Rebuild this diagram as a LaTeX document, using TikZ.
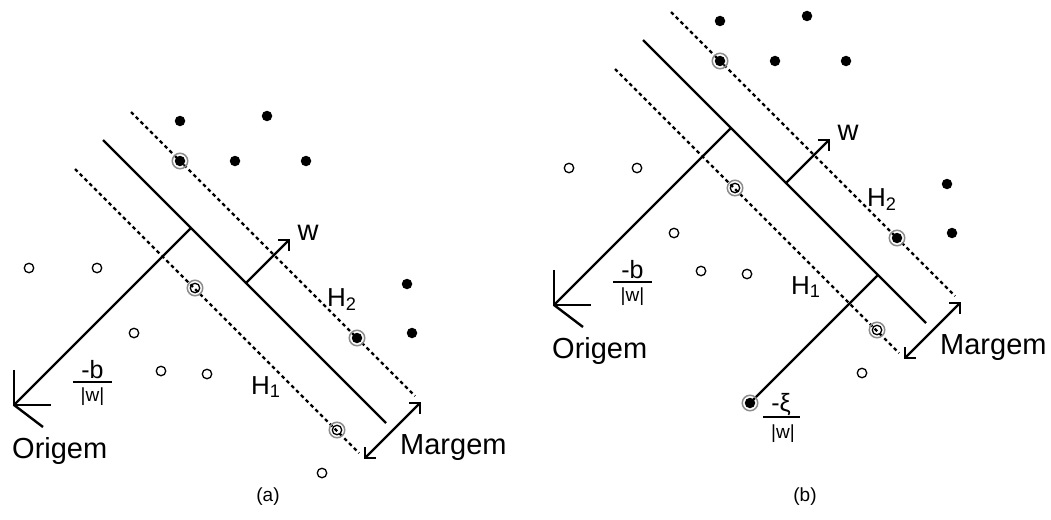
\documentclass[tikz,border=0pt]{standalone}
\usepackage{fontspec}
\setmainfont{Liberation Sans}
\usetikzlibrary{arrows.meta}
\begin{document}
\begin{tikzpicture}[x=1pt,y=-1pt,
  hyper/.style={line width=2.4pt},
  margline/.style={line width=2.4pt, dash pattern=on 3.6pt off 3.2pt},
  vec/.style={line width=2.4pt, -{Straight Barb[length=7.5pt,width=15pt,line width=2.4pt]}},
  dvec/.style={line width=2.4pt, {Straight Barb[length=7.5pt,width=15pt,line width=2.4pt]}-{Straight Barb[length=7.5pt,width=15pt,line width=2.4pt]}},
  fdot/.style={circle, fill=black, inner sep=0pt, minimum size=10.5pt},
  odot/.style={circle, draw=black, fill=white, line width=1.3pt, inner sep=0pt, minimum size=9.5pt},
  ringc/.style={circle, draw=black!45, line width=1.5pt, inner sep=0pt, minimum size=15.5pt},
  lab/.style={font=\fontsize{29}{34}\selectfont, inner sep=0pt},
  hlab/.style={font=\fontsize{26}{30}\selectfont, inner sep=0pt},
  numlab/.style={font=\fontsize{25}{28}\selectfont, inner sep=0pt},
  denlab/.style={font=\fontsize{19}{22}\selectfont, inner sep=0pt},
  caplab/.style={font=\fontsize{19}{22}\selectfont, inner sep=0pt},
  svm/.pic={
    % hyperplane and margins
    \coordinate (-s1) at (103,140); \coordinate (-s2) at (386,423);
    \coordinate (-u1) at (131,112); \coordinate (-u2) at (415,396);
    \coordinate (-l1) at (75,169);  \coordinate (-l2) at (359,453);
    \draw[hyper] (-s1) -- (-s2);
    \draw[margline] (-u1) -- (-u2);
    \draw[margline] (-l1) -- (-l2);
    % origin
    \coordinate (-o) at (14,405); \coordinate (-foot) at (191,228);
    \coordinate (-ov) at (14,370); \coordinate (-oh) at (51,405); \coordinate (-od) at (43,427);
    \draw[hyper] (-foot) -- (-o);
    \draw[hyper] (-ov) -- (-o) -- (-oh);
    \draw[hyper] (-o) -- (-od);
    % w vector
    \coordinate (-wa) at (246,283); \coordinate (-wb) at (290,239);
    \draw[vec] (-wa) -- (-wb);
    % margin arrow
    \coordinate (-ma) at (364,459); \coordinate (-mb) at (421,402);
    \draw[dvec] (-ma) -- (-mb);
    % filled points
    \node[fdot] (-f1) at (180,121) {};
    \node[fdot] (-f2) at (267,116) {};
    \node[fdot] (-f3) at (235,161) {};
    \node[fdot] (-f4) at (306,161) {};
    \node[fdot] (-f5) at (407,284) {};
    \node[fdot] (-f6) at (412,333) {};
    \node[ringc] (-r1) at (180,161) {}; \node[fdot] (-fs1) at (180,161) {};
    \node[ringc] (-r2) at (357,338) {}; \node[fdot] (-fs2) at (357,338) {};
    % open points
    \node[odot] (-c1) at (29,268) {};
    \node[odot] (-c2) at (97,268) {};
    \node[odot] (-c3) at (134,333) {};
    \node[odot] (-c4) at (161,371) {};
    \node[odot] (-c5) at (207,374) {};
    \node[odot] (-c6) at (322,473) {};
    \node[ringc] (-r3) at (195,288) {}; \node[odot, fill=none] (-cs1) at (195,288) {};
    \node[ringc] (-r4) at (337,430) {}; \node[odot, fill=none] (-cs2) at (337,430) {};
    % labels
    \node[lab, anchor=base] (-wl) at (308,240) {w};
    \node[hlab, anchor=base west] (-h2) at (327,306) {H\textsubscript{2}};
    \node[hlab, anchor=base west] (-h1) at (251,394) {H\textsubscript{1}};
    \node[lab, anchor=base west] (-orig) at (12,458) {Origem};
    \node[lab, anchor=base west] (-marg) at (400,454) {Margem};
    \node[numlab, anchor=base] (-bn) at (92.5,378) {-b};
    \coordinate (-bb1) at (73,382); \coordinate (-bb2) at (112,382);
    \draw[line width=2pt] (-bb1) -- (-bb2);
    \node[denlab, anchor=base] (-bd) at (92.5,401) {|w|};
  }]
\useasboundingbox (0,0) rectangle (1051,519);
\pic (pa) at (0,0) {svm};
\pic (pb) at (540,-100) {svm};
% slack variable in (b)
\coordinate (xifoot) at (878,275);
\draw[hyper] (xifoot) -- (750,403) coordinate (xiend);
\node[ringc] (xiring) at (xiend) {};
\node[fdot] (xipt) at (xiend) {};
\node[numlab, anchor=base] (xin) at (781,411) {-ξ};
\coordinate (xb1) at (763,417); \coordinate (xb2) at (800,417);
\draw[line width=2pt] (xb1) -- (xb2);
\node[denlab, anchor=base] (xid) at (783,438) {|w|};
% captions
\node[caplab] (capa) at (268,497) {(a)};
\node[caplab] (capb) at (805,497) {(b)};
\end{tikzpicture}
\end{document}
